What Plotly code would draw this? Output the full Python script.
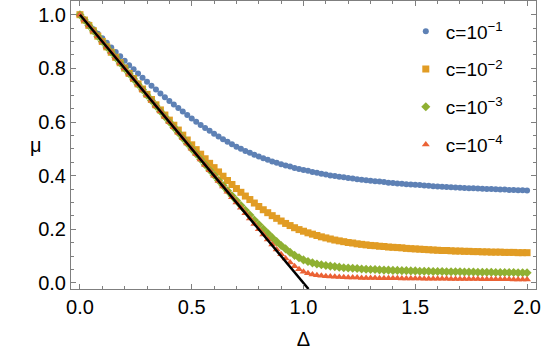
import numpy as np
import plotly.graph_objects as go

# Delta grid (step 0.02)
delta = [round(0.02 * i, 2) for i in range(101)]

mu_c1 = [1.000, 0.982, 0.964, 0.946, 0.929, 0.912, 0.895, 0.878, 0.861, 0.845,
         0.828, 0.812, 0.797, 0.781, 0.765, 0.750, 0.735, 0.721, 0.706, 0.692,
         0.678, 0.665, 0.652, 0.639, 0.626, 0.613, 0.601, 0.589, 0.578, 0.567,
         0.556, 0.546, 0.536, 0.526, 0.517, 0.508, 0.500, 0.492, 0.485, 0.478,
         0.471, 0.465, 0.459, 0.453, 0.448, 0.443, 0.438, 0.434, 0.429, 0.425,
         0.421, 0.418, 0.414, 0.411, 0.407, 0.404, 0.401, 0.399, 0.396, 0.394,
         0.391, 0.389, 0.387, 0.385, 0.383, 0.381, 0.379, 0.378, 0.376, 0.374,
         0.373, 0.371, 0.370, 0.368, 0.367, 0.366, 0.365, 0.363, 0.362, 0.361,
         0.360, 0.359, 0.358, 0.357, 0.356, 0.355, 0.354, 0.353, 0.353, 0.352,
         0.351, 0.350, 0.350, 0.349, 0.348, 0.348, 0.347, 0.347, 0.346, 0.346,
         0.345]

mu_c2 = [1.000, 0.980, 0.960, 0.940, 0.920, 0.900, 0.880, 0.860, 0.841, 0.821,
         0.801, 0.781, 0.762, 0.742, 0.723, 0.703, 0.684, 0.664, 0.645, 0.626,
         0.607, 0.588, 0.570, 0.551, 0.533, 0.515, 0.497, 0.480, 0.463, 0.446,
         0.430, 0.414, 0.398, 0.382, 0.367, 0.352, 0.338, 0.324, 0.311, 0.298,
         0.285, 0.273, 0.262, 0.251, 0.241, 0.231, 0.222, 0.214, 0.206, 0.199,
         0.193, 0.187, 0.182, 0.177, 0.172, 0.168, 0.164, 0.160, 0.157, 0.154,
         0.151, 0.149, 0.146, 0.144, 0.142, 0.140, 0.139, 0.137, 0.136, 0.134,
         0.133, 0.132, 0.131, 0.129, 0.128, 0.127, 0.126, 0.125, 0.124, 0.123,
         0.122, 0.121, 0.121, 0.120, 0.119, 0.119, 0.118, 0.118, 0.117, 0.117,
         0.116, 0.116, 0.115, 0.115, 0.115, 0.114, 0.114, 0.114, 0.113, 0.113,
         0.113]

mu_c3 = [1.000, 0.980, 0.960, 0.940, 0.920, 0.900, 0.880, 0.860, 0.840, 0.820,
         0.800, 0.780, 0.760, 0.740, 0.720, 0.700, 0.680, 0.660, 0.640, 0.620,
         0.600, 0.580, 0.560, 0.540, 0.520, 0.500, 0.481, 0.461, 0.441, 0.421,
         0.402, 0.382, 0.363, 0.344, 0.325, 0.307, 0.289, 0.271, 0.253, 0.235,
         0.218, 0.201, 0.185, 0.169, 0.154, 0.140, 0.127, 0.114, 0.103, 0.094,
         0.086, 0.080, 0.075, 0.071, 0.068, 0.065, 0.063, 0.061, 0.059, 0.057,
         0.056, 0.055, 0.054, 0.052, 0.051, 0.050, 0.050, 0.049, 0.048, 0.048,
         0.047, 0.047, 0.046, 0.046, 0.045, 0.045, 0.044, 0.044, 0.044, 0.043,
         0.043, 0.043, 0.042, 0.042, 0.042, 0.042, 0.041, 0.041, 0.041, 0.040,
         0.040, 0.040, 0.040, 0.039, 0.039, 0.039, 0.039, 0.039, 0.038, 0.038,
         0.038]

mu_c4 = [1.000, 0.980, 0.960, 0.940, 0.920, 0.900, 0.880, 0.860, 0.840, 0.820,
         0.800, 0.780, 0.760, 0.740, 0.720, 0.700, 0.680, 0.660, 0.640, 0.620,
         0.600, 0.580, 0.560, 0.540, 0.520, 0.500, 0.480, 0.460, 0.440, 0.420,
         0.400, 0.380, 0.360, 0.340, 0.320, 0.300, 0.280, 0.260, 0.240, 0.220,
         0.200, 0.181, 0.162, 0.143, 0.125, 0.107, 0.091, 0.076, 0.062, 0.051,
         0.042, 0.036, 0.032, 0.029, 0.027, 0.025, 0.024, 0.023, 0.022, 0.021,
         0.020, 0.020, 0.020, 0.019, 0.019, 0.019, 0.019, 0.018, 0.018, 0.018,
         0.018, 0.018, 0.017, 0.017, 0.017, 0.017, 0.017, 0.016, 0.016, 0.016,
         0.016, 0.016, 0.016, 0.015, 0.015, 0.015, 0.015, 0.015, 0.015, 0.015,
         0.014, 0.014, 0.014, 0.014, 0.014, 0.014, 0.014, 0.013, 0.013, 0.013,
         0.013]

# limiting line mu = 1 - Delta
line_x = [0.0, 1.0224]
line_y = [1.0, -0.0224]

labels = ['c=10<sup>\u22121</sup>', 'c=10<sup>\u22122</sup>',
          'c=10<sup>\u22123</sup>', 'c=10<sup>\u22124</sup>']
colors = ['#5E81B5', '#E19C24', '#8FB032', '#EB6235']
symbols = ['circle', 'square', 'diamond', 'triangle-up']
sizes = [6, 7, 7, 7]

fig = go.Figure()
for i, mu in enumerate([mu_c1, mu_c2, mu_c3, mu_c4]):
    fig.add_trace(go.Scatter(x=delta, y=mu, mode='markers', name=labels[i],
                             legendgroup=str(i),
                             marker=dict(color=colors[i], symbol=symbols[i],
                                         size=sizes[i], line=dict(width=0))))

fig.add_trace(go.Scatter(x=line_x, y=line_y, mode='lines', showlegend=False,
                         line=dict(color='black', width=2.5)))

font = 'Liberation Sans, Arial, sans-serif'
axis_common = dict(showgrid=False, zeroline=False, showline=True, linecolor='#7f7f7f',
                   linewidth=1, mirror='allticks', ticks='inside', ticklen=5,
                   tickcolor='#7f7f7f', tickfont=dict(family=font, size=20, color='black'))

fig.update_layout(
    width=545, height=356,
    margin=dict(l=71, r=9, t=1, b=67),
    plot_bgcolor='white', paper_bgcolor='white',
    xaxis=dict(range=[-0.04, 2.04], tickvals=[0, 0.5, 1.0, 1.5, 2.0],
               ticktext=['0.0', '0.5', '1.0', '1.5', '2.0'],
               minor=dict(dtick=0.1, ticks='inside', ticklen=3, tickcolor='#7f7f7f'),
               title=dict(text='\u0394', font=dict(family=font, size=20, color='black'),
                          standoff=14),
               **axis_common),
    yaxis=dict(range=[-0.0224, 1.051], tickvals=[0, 0.2, 0.4, 0.6, 0.8, 1.0],
               ticktext=['0.0', '0.2', '0.4', '0.6', '0.8', '1.0'],
               minor=dict(dtick=0.05, ticks='inside', ticklen=3, tickcolor='#7f7f7f'),
               **axis_common),
    legend=dict(x=0.72, y=0.96, xanchor='left', yanchor='top',
                bgcolor='rgba(0,0,0,0)', tracegroupgap=10, itemsizing='trace',
                font=dict(family=font, size=19, color='black')),
)

# upright mu label on the left
fig.add_annotation(text='\u03bc', xref='paper', yref='paper', x=-0.0925, y=0.5,
                   showarrow=False, font=dict(family=font, size=20, color='black'))

fig.write_html("out.html", config={'displayModeBar': False},
               post_script="document.body.style.margin='0';")
